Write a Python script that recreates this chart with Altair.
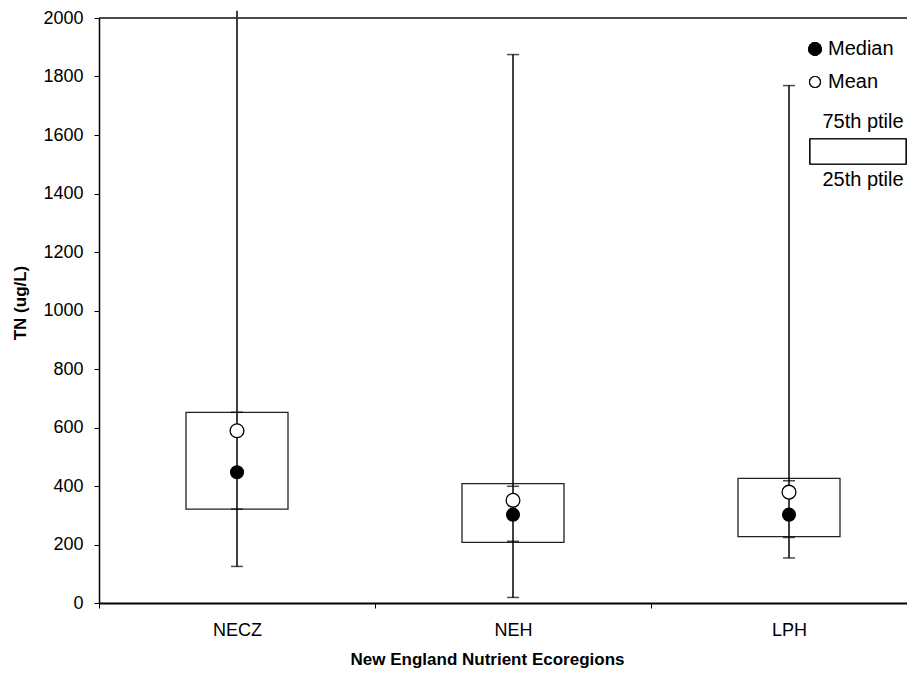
import altair as alt
import pandas as pd

# ---- data ----
categories = ["NECZ", "NEH", "LPH"]
p75 = [652, 408, 426]
p25 = [321, 207, 227]
median = [447, 302, 302]
mean = [589, 351, 379]
whisker_hi = [2025, 1875, 1769]
whisker_lo = [125, 19, 154]
cap_hi_inner = [652, 399, 418]
cap_lo_inner = [321, 211, 224]
y_ticks = list(range(0, 2001, 200))

# ---- layout ----
W, H = 808, 585
BAND = 276  # pixels per category
FONT = "Liberation Sans"

df = pd.DataFrame({
    "cat": categories,
    "idx": list(range(len(categories))),
    "p75": p75, "p25": p25, "median": median, "mean": mean,
    "whi": whisker_hi, "wlo": whisker_lo,
    "chi": cap_hi_inner, "clo": cap_lo_inner,
})
df["pos"] = df["idx"] + 0.5

caps = df.melt(id_vars=["cat", "pos"], value_vars=["whi", "wlo", "chi", "clo"],
               var_name="kind", value_name="val")
caps = caps[caps["val"] <= 2000]

label_expr = "[" + ",".join("'%s'" % c for c in categories) + "][datum.value]"

xscale = alt.Scale(domain=[0, W / BAND], nice=False, zero=False, padding=0)
yscale = alt.Scale(domain=[0, 2000], nice=False)

x_axis = alt.Axis(values=[0, 1, 2], labelExpr=label_expr, labelOffset=BAND / 2,
                  labelFlush=False, labelAlign="center",
                  grid=False, tickSize=5, tickColor="black", tickWidth=1,
                  domainColor="black", domainWidth=2, labelFontSize=18,
                  labelPadding=13, labelColor="black", labelFont=FONT,
                  title="New England Nutrient Ecoregions", titleFont=FONT,
                  titleFontSize=17, titleFontWeight="bold", titleColor="black",
                  titleX=388, titleY=56, titleBaseline="middle", titleAlign="center")
y_axis = alt.Axis(values=y_ticks, format="d", grid=False, tickSize=5, tickColor="black",
                  domainColor="black", domainWidth=1.5, labelFontSize=18,
                  labelPadding=11, labelColor="black", labelFont=FONT,
                  labelFlush=False,
                  title="TN (ug/L)", titleFont=FONT, titleFontSize=17,
                  titleFontWeight="bold", titleColor="black",
                  titleX=-79, titleY=H / 2 - 8, titleBaseline="middle",
                  titleAlign="center", titleAngle=-90)

base = alt.Chart(df)

box = base.mark_bar(size=102, fill="white", stroke="#222", strokeWidth=1.3).encode(
    x=alt.X("pos:Q", scale=xscale, axis=x_axis),
    y=alt.Y("p75:Q", scale=yscale, axis=y_axis),
    y2="p25:Q",
)

whisk = base.mark_rule(color="black", strokeWidth=1.5, clip=False).encode(
    x="pos:Q", y="wlo:Q", y2="whi:Q"
)

capmark = alt.Chart(caps).mark_tick(orient="horizontal", size=12, thickness=1.5,
                                    color="black").encode(x="pos:Q", y="val:Q")

mean_pt = base.mark_point(shape="circle", size=190, filled=True, fill="white",
                          stroke="black", strokeWidth=1.3, opacity=1).encode(
    x="pos:Q", y="mean:Q")
med_pt = base.mark_point(shape="circle", size=200, filled=True, color="black",
                         opacity=1).encode(x="pos:Q", y="median:Q")

top_line = base.mark_rule(color="#333", strokeWidth=1).encode(
    y=alt.value(0), x=alt.value(0), x2=alt.value(W))

# legend (drawn in pixel space inside the plot)
leg_med = base.mark_point(shape="circle", size=190, filled=True, color="black",
                          opacity=1).encode(x=alt.value(716), y=alt.value(31))
leg_mean = base.mark_point(shape="circle", size=120, filled=True, fill="white",
                           stroke="black", strokeWidth=1.2, opacity=1).encode(
    x=alt.value(716), y=alt.value(64))
leg_txt = alt.Chart(pd.DataFrame({"t": ["Median", "Mean"], "yy": [31, 64]})).mark_text(
    align="left", baseline="middle", font=FONT, fontSize=20, color="black"
).encode(x=alt.value(729), y=alt.Y("yy:Q", scale=None), text="t:N")
leg_box = base.mark_rect(fill="white", stroke="black", strokeWidth=1.2).encode(
    x=alt.value(711), x2=alt.value(807), y=alt.value(121), y2=alt.value(146))
leg_pct = alt.Chart(pd.DataFrame({"t": ["75th ptile", "25th ptile"], "yy": [104, 162]})).mark_text(
    align="center", baseline="middle", font=FONT, fontSize=20, color="black"
).encode(x=alt.value(764), y=alt.Y("yy:Q", scale=None), text="t:N")

chart = alt.layer(
    box, whisk, capmark, mean_pt, med_pt, top_line,
    leg_med, leg_mean, leg_txt, leg_box, leg_pct
).properties(
    width=W, height=H,
    autosize=alt.AutoSizeParams(type="none"),
    padding={"left": 91, "top": 10, "right": 0, "bottom": 68},
).configure_view(stroke=None).configure(background="white")

chart.save("out.html", embed_options={"renderer": "svg", "actions": False})
